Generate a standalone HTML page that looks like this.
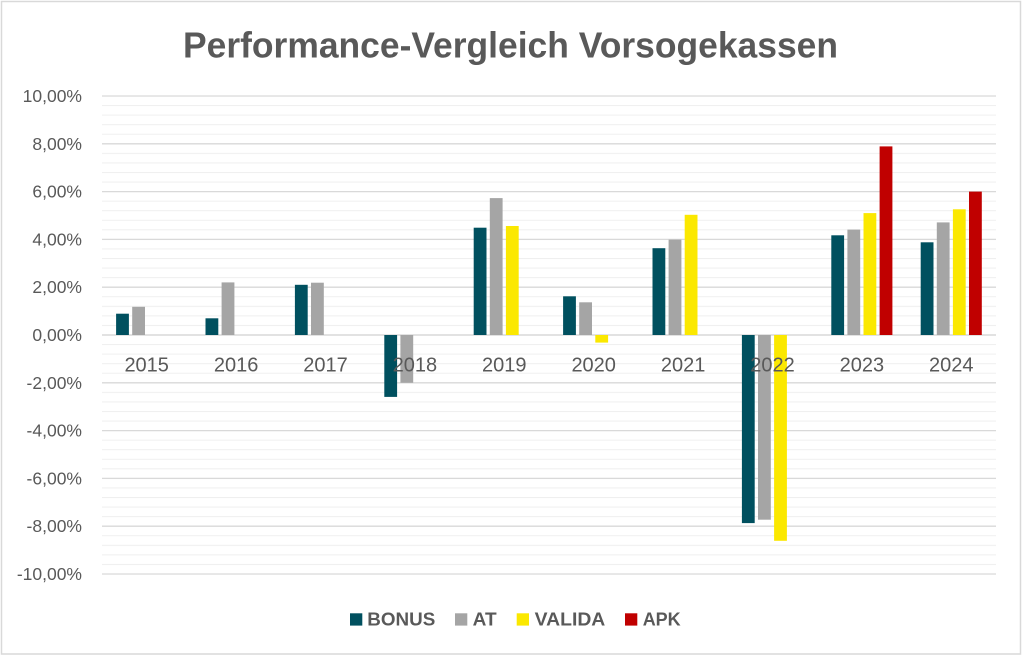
<!DOCTYPE html>
<html>
<head>
<meta charset="utf-8">
<style>
  html,body{margin:0;padding:0;background:#fff;}
  svg{display:block;}
  text{font-family:"Liberation Sans",Arial,sans-serif;fill:#595959;}
</style>
</head>
<body>
<svg width="1024" height="657" viewBox="0 0 1024 657" xmlns="http://www.w3.org/2000/svg">
  <defs>
    <pattern id="minor" patternUnits="userSpaceOnUse" x="0" y="95.5" width="894" height="9.56">
      <rect x="0" y="0" width="894" height="1" fill="#efefef"/>
    </pattern>
  </defs>
  <rect x="0" y="0" width="1024" height="657" fill="#fff"/>
  <rect x="1.5" y="1.5" width="1019" height="652.5" fill="#fff" stroke="#d9d9d9" stroke-width="1.5"/>

  <!-- Title -->
  <text x="183" y="57.5" font-size="36" font-weight="bold" textLength="655" lengthAdjust="spacingAndGlyphs">Performance-Vergleich Vorsogekassen</text>

  <!-- minor gridlines -->
  <rect x="102" y="95.5" width="894" height="480" fill="url(#minor)"/>
  <!-- major gridlines -->
  <g stroke="#d9d9d9" stroke-width="1.3">
    <line x1="102" x2="996" y1="96" y2="96"/>
    <line x1="102" x2="996" y1="143.8" y2="143.8"/>
    <line x1="102" x2="996" y1="191.6" y2="191.6"/>
    <line x1="102" x2="996" y1="239.4" y2="239.4"/>
    <line x1="102" x2="996" y1="287.2" y2="287.2"/>
    <line x1="102" x2="996" y1="382.8" y2="382.8"/>
    <line x1="102" x2="996" y1="430.6" y2="430.6"/>
    <line x1="102" x2="996" y1="478.4" y2="478.4"/>
    <line x1="102" x2="996" y1="526.2" y2="526.2"/>
    <line x1="102" x2="996" y1="574" y2="574"/>
  </g>
  <line x1="102" x2="996" y1="335" y2="335" stroke="#d9d9d9" stroke-width="1.5"/>

  <!-- Y labels -->
  <g font-size="17.5" text-anchor="end">
    <text x="82" y="102">10,00%</text>
    <text x="82" y="149.8">8,00%</text>
    <text x="82" y="197.6">6,00%</text>
    <text x="82" y="245.4">4,00%</text>
    <text x="82" y="293.2">2,00%</text>
    <text x="82" y="341">0,00%</text>
    <text x="82" y="388.8">-2,00%</text>
    <text x="82" y="436.6">-4,00%</text>
    <text x="82" y="484.4">-6,00%</text>
    <text x="82" y="532.2">-8,00%</text>
    <text x="82" y="580">-10,00%</text>
  </g>

  <!-- Bars -->
  <g>
    <!-- BONUS -->
    <g fill="#00505f">
      <rect x="116.1" y="313.7" width="12.8" height="21.3"/>
      <rect x="205.5" y="318.3" width="12.8" height="16.7"/>
      <rect x="294.9" y="284.8" width="12.8" height="50.2"/>
      <rect x="384.3" y="335" width="12.8" height="61.9"/>
      <rect x="473.7" y="227.7" width="12.8" height="107.3"/>
      <rect x="563.1" y="296.3" width="12.8" height="38.7"/>
      <rect x="652.5" y="248.2" width="12.8" height="86.8"/>
      <rect x="741.9" y="335" width="12.8" height="188.1"/>
      <rect x="831.3" y="235.3" width="12.8" height="99.7"/>
      <rect x="920.7" y="242.3" width="12.8" height="92.7"/>
    </g>
    <!-- AT -->
    <g fill="#a5a5a5">
      <rect x="132.2" y="306.8" width="12.8" height="28.2"/>
      <rect x="221.6" y="282.4" width="12.8" height="52.6"/>
      <rect x="311.0" y="282.7" width="12.8" height="52.3"/>
      <rect x="400.4" y="335" width="12.8" height="47.8"/>
      <rect x="489.8" y="198.1" width="12.8" height="136.9"/>
      <rect x="579.2" y="302.3" width="12.8" height="32.7"/>
      <rect x="668.6" y="239.6" width="12.8" height="95.4"/>
      <rect x="758.0" y="335" width="12.8" height="184.7"/>
      <rect x="847.4" y="229.6" width="12.8" height="105.4"/>
      <rect x="936.8" y="222.4" width="12.8" height="112.6"/>
    </g>
    <!-- VALIDA -->
    <g fill="#fbe800">
      <rect x="505.9" y="226.0" width="12.8" height="109.0"/>
      <rect x="595.3" y="335" width="12.8" height="7.6"/>
      <rect x="684.7" y="214.8" width="12.8" height="120.2"/>
      <rect x="774.1" y="335" width="12.8" height="205.8"/>
      <rect x="863.5" y="213.1" width="12.8" height="121.9"/>
      <rect x="952.9" y="209.3" width="12.8" height="125.7"/>
    </g>
    <!-- APK -->
    <g fill="#c00000">
      <rect x="879.6" y="146.4" width="12.8" height="188.6"/>
      <rect x="969.0" y="191.6" width="12.8" height="143.4"/>
    </g>
  </g>

  <!-- X labels -->
  <g font-size="20" text-anchor="middle">
    <text x="146.7" y="371.5">2015</text>
    <text x="236.1" y="371.5">2016</text>
    <text x="325.5" y="371.5">2017</text>
    <text x="414.9" y="371.5">2018</text>
    <text x="504.3" y="371.5">2019</text>
    <text x="593.7" y="371.5">2020</text>
    <text x="683.1" y="371.5">2021</text>
    <text x="772.5" y="371.5">2022</text>
    <text x="861.9" y="371.5">2023</text>
    <text x="951.3" y="371.5">2024</text>
  </g>

  <!-- Legend -->
  <rect x="350" y="613.3" width="12.3" height="12.3" fill="#00505f"/>
  <text x="367.3" y="625.7" font-size="18" font-weight="bold" textLength="68" lengthAdjust="spacingAndGlyphs">BONUS</text>
  <rect x="455" y="613.3" width="12.3" height="12.3" fill="#a5a5a5"/>
  <text x="472.7" y="625.7" font-size="18" font-weight="bold" textLength="24" lengthAdjust="spacingAndGlyphs">AT</text>
  <rect x="516.7" y="613.3" width="12.3" height="12.3" fill="#fbe800"/>
  <text x="534.7" y="625.7" font-size="18" font-weight="bold" textLength="70.6" lengthAdjust="spacingAndGlyphs">VALIDA</text>
  <rect x="625" y="613.3" width="12.3" height="12.3" fill="#c00000"/>
  <text x="642.7" y="625.7" font-size="18" font-weight="bold" textLength="38" lengthAdjust="spacingAndGlyphs">APK</text>
</svg>
</body>
</html>
